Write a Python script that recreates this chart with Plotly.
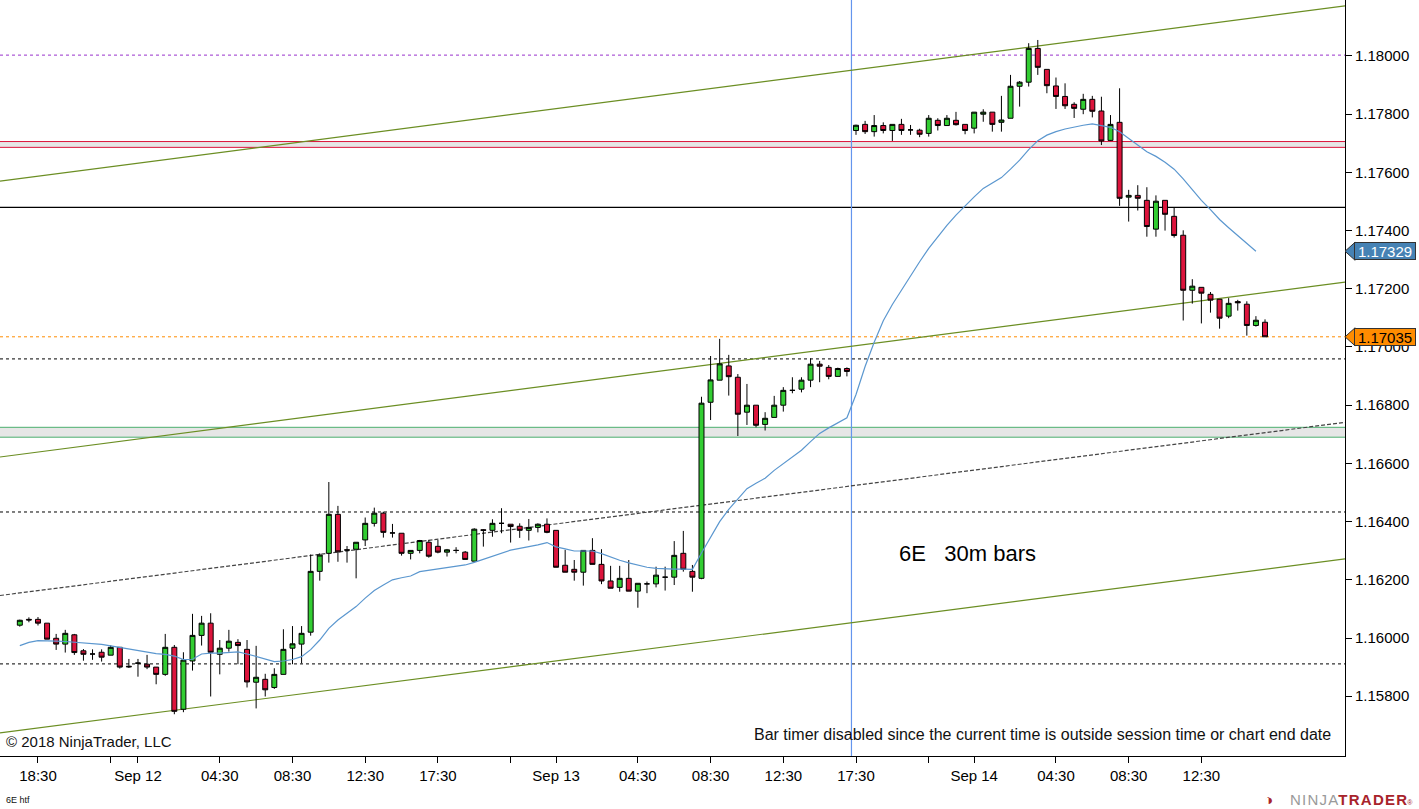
import plotly.graph_objects as go

# ── 6E 30-minute bars, Sep 11 17:00 → Sep 14 ─────────────────────────────────
opens = [
    1.16044, 1.16064, 1.16064, 1.16051, 1.15999, 1.15979, 1.16011, 1.15956, 1.15945, 1.15951,
    1.15941, 1.15968, 1.15903, 1.15913, 1.15910, 1.15900, 1.15875, 1.15968, 1.15755, 1.15921,
    1.16009, 1.16051, 1.15944, 1.15965, 1.15985, 1.15961, 1.15848, 1.15858, 1.15830, 1.15875,
    1.15965, 1.15979, 1.16020, 1.16229, 1.16291, 1.16425, 1.16303, 1.16305, 1.16337, 1.16394,
    1.16429, 1.16361, 1.16360, 1.16291, 1.16301, 1.16329, 1.16315, 1.16295, 1.16301, 1.16295,
    1.16264, 1.16372, 1.16370, 1.16394, 1.16391, 1.16384, 1.16370, 1.16380, 1.16391, 1.16370,
    1.16250, 1.16236, 1.16226, 1.16301, 1.16253, 1.16196, 1.16174, 1.16205, 1.16161, 1.16186,
    1.16186, 1.16209, 1.16209, 1.16291, 1.16229, 1.16205, 1.16810, 1.16886, 1.16935, 1.16896,
    1.16776, 1.16800, 1.16734, 1.16758, 1.16800, 1.16851, 1.16855, 1.16886, 1.16941, 1.16930,
    1.16899, 1.16926, 1.17744, 1.17765, 1.17740, 1.17761, 1.17744, 1.17765, 1.17746, 1.17745,
    1.17734, 1.17779, 1.17761, 1.17779, 1.17765, 1.17752, 1.17800, 1.17807, 1.17772, 1.17786,
    1.17896, 1.17910, 1.18026, 1.17954, 1.17897, 1.17861, 1.17834, 1.17817, 1.17851, 1.17811,
    1.17710, 1.17772, 1.17515, 1.17521, 1.17504, 1.17405, 1.17504, 1.17449, 1.17384, 1.17195,
    1.17205, 1.17181, 1.17164, 1.17106, 1.17156, 1.17147, 1.17074, 1.17085,
]
highs = [
    1.16063, 1.16071, 1.16072, 1.16051, 1.16014, 1.16028, 1.16014, 1.15962, 1.15961, 1.15961,
    1.15975, 1.15968, 1.15928, 1.15928, 1.15942, 1.15900, 1.16014, 1.15976, 1.15951, 1.16083,
    1.16076, 1.16085, 1.15993, 1.16028, 1.15996, 1.15993, 1.15973, 1.15877, 1.15896, 1.16030,
    1.16041, 1.16041, 1.16287, 1.16291, 1.16536, 1.16454, 1.16316, 1.16329, 1.16414, 1.16448,
    1.16434, 1.16392, 1.16360, 1.16301, 1.16337, 1.16337, 1.16337, 1.16306, 1.16312, 1.16299,
    1.16377, 1.16374, 1.16408, 1.16446, 1.16391, 1.16394, 1.16409, 1.16394, 1.16411, 1.16370,
    1.16303, 1.16268, 1.16301, 1.16343, 1.16305, 1.16248, 1.16248, 1.16268, 1.16188, 1.16194,
    1.16245, 1.16245, 1.16333, 1.16368, 1.16251, 1.16829, 1.16969, 1.17028, 1.16973, 1.16907,
    1.16873, 1.16800, 1.16776, 1.16832, 1.16862, 1.16896, 1.16896, 1.16961, 1.16952, 1.16938,
    1.16929, 1.16930, 1.17764, 1.17777, 1.17797, 1.17772, 1.17765, 1.17784, 1.17763, 1.17750,
    1.17797, 1.17786, 1.17797, 1.17808, 1.17765, 1.17807, 1.17817, 1.17807, 1.17863, 1.17935,
    1.17914, 1.18044, 1.18055, 1.17954, 1.17926, 1.17906, 1.17841, 1.17870, 1.17863, 1.17860,
    1.17797, 1.17889, 1.17540, 1.17556, 1.17549, 1.17521, 1.17504, 1.17480, 1.17401, 1.17233,
    1.17205, 1.17189, 1.17164, 1.17168, 1.17162, 1.17157, 1.17106, 1.17095,
]
lows = [
    1.16039, 1.16054, 1.16043, 1.15996, 1.15959, 1.15950, 1.15942, 1.15922, 1.15925, 1.15919,
    1.15941, 1.15895, 1.15897, 1.15867, 1.15893, 1.15841, 1.15870, 1.15738, 1.15745, 1.15888,
    1.15974, 1.15799, 1.15875, 1.15953, 1.15910, 1.15830, 1.15758, 1.15799, 1.15825, 1.15875,
    1.15910, 1.15913, 1.16008, 1.16197, 1.16259, 1.16262, 1.16259, 1.16205, 1.16316, 1.16383,
    1.16345, 1.16345, 1.16283, 1.16270, 1.16291, 1.16276, 1.16291, 1.16280, 1.16291, 1.16270,
    1.16264, 1.16314, 1.16348, 1.16360, 1.16328, 1.16344, 1.16335, 1.16363, 1.16360, 1.16243,
    1.16226, 1.16197, 1.16180, 1.16253, 1.16185, 1.16171, 1.16159, 1.16161, 1.16104, 1.16154,
    1.16174, 1.16163, 1.16182, 1.16228, 1.16159, 1.16202, 1.16749, 1.16886, 1.16833, 1.16694,
    1.16732, 1.16724, 1.16713, 1.16758, 1.16778, 1.16841, 1.16844, 1.16862, 1.16879, 1.16889,
    1.16899, 1.16899, 1.17729, 1.17732, 1.17723, 1.17734, 1.17708, 1.17729, 1.17729, 1.17721,
    1.17723, 1.17744, 1.17761, 1.17761, 1.17731, 1.17734, 1.17774, 1.17740, 1.17740, 1.17786,
    1.17826, 1.17895, 1.17935, 1.17872, 1.17818, 1.17818, 1.17787, 1.17800, 1.17789, 1.17694,
    1.17708, 1.17485, 1.17431, 1.17469, 1.17379, 1.17379, 1.17400, 1.17376, 1.17091, 1.17149,
    1.17081, 1.17118, 1.17063, 1.17099, 1.17125, 1.17039, 1.17070, 1.17035,
]
closes = [
    1.16061, 1.16062, 1.16051, 1.15996, 1.15979, 1.16016, 1.15950, 1.15944, 1.15945, 1.15934,
    1.15968, 1.15900, 1.15901, 1.15914, 1.15900, 1.15875, 1.15968, 1.15748, 1.15924, 1.16009,
    1.16051, 1.15951, 1.15965, 1.15989, 1.15974, 1.15849, 1.15865, 1.15822, 1.15875, 1.15961,
    1.15980, 1.16016, 1.16229, 1.16285, 1.16425, 1.16296, 1.16302, 1.16329, 1.16394, 1.16429,
    1.16363, 1.16361, 1.16291, 1.16301, 1.16335, 1.16281, 1.16295, 1.16303, 1.16301, 1.16270,
    1.16374, 1.16370, 1.16394, 1.16394, 1.16383, 1.16370, 1.16380, 1.16391, 1.16363, 1.16243,
    1.16226, 1.16226, 1.16301, 1.16253, 1.16196, 1.16171, 1.16205, 1.16161, 1.16188, 1.16186,
    1.16216, 1.16209, 1.16284, 1.16236, 1.16209, 1.16807, 1.16887, 1.16942, 1.16898, 1.16769,
    1.16800, 1.16731, 1.16755, 1.16800, 1.16851, 1.16851, 1.16886, 1.16941, 1.16934, 1.16899,
    1.16926, 1.16916, 1.17762, 1.17740, 1.17761, 1.17744, 1.17765, 1.17744, 1.17746, 1.17731,
    1.17786, 1.17761, 1.17786, 1.17764, 1.17744, 1.17807, 1.17807, 1.17765, 1.17780, 1.17896,
    1.17910, 1.18026, 1.17961, 1.17898, 1.17861, 1.17829, 1.17820, 1.17851, 1.17810, 1.17708,
    1.17765, 1.17511, 1.17521, 1.17511, 1.17414, 1.17501, 1.17456, 1.17383, 1.17195, 1.17209,
    1.17185, 1.17161, 1.17099, 1.17150, 1.17152, 1.17074, 1.17092, 1.17035,
]
# moving average (one value per bar, last bar has none)
ma_values = [
    1.15974, 1.15985, 1.15991, 1.15991, 1.15989, 1.15988, 1.15986, 1.15984, 1.15982, 1.15978,
    1.15973, 1.15968, 1.15962, 1.15958, 1.15953, 1.15946, 1.15944, 1.15938, 1.15926, 1.15927,
    1.15945, 1.15948, 1.15948, 1.15950, 1.15952, 1.15945, 1.15936, 1.15926, 1.15919, 1.15921,
    1.15926, 1.15936, 1.15960, 1.15993, 1.16033, 1.16062, 1.16085, 1.16108, 1.16137, 1.16163,
    1.16182, 1.16200, 1.16207, 1.16213, 1.16228, 1.16233, 1.16238, 1.16242, 1.16246, 1.16251,
    1.16260, 1.16270, 1.16281, 1.16292, 1.16302, 1.16308, 1.16313, 1.16320, 1.16328, 1.16313,
    1.16306, 1.16299, 1.16299, 1.16299, 1.16290, 1.16278, 1.16267, 1.16258, 1.16250, 1.16243,
    1.16239, 1.16237, 1.16237, 1.16237, 1.16236, 1.16292, 1.16346, 1.16400, 1.16442, 1.16479,
    1.16513, 1.16532, 1.16549, 1.16576, 1.16600, 1.16622, 1.16645, 1.16675, 1.16703, 1.16722,
    1.16740, 1.16757, 1.16837, 1.16933, 1.17016, 1.17090, 1.17146, 1.17196, 1.17245, 1.17293,
    1.17339, 1.17379, 1.17418, 1.17453, 1.17485, 1.17516, 1.17545, 1.17564, 1.17582, 1.17611,
    1.17642, 1.17678, 1.17709, 1.17728, 1.17740, 1.17749, 1.17756, 1.17762, 1.17767, 1.17762,
    1.17755, 1.17740, 1.17717, 1.17694, 1.17671, 1.17655, 1.17635, 1.17611, 1.17578, 1.17541,
    1.17504, 1.17472, 1.17438, 1.17410, 1.17384, 1.17356, 1.17329,
]

tick_bars   = [2, 10, 13, 22, 30, 38, 46, 54, 59, 68, 76, 84, 92, 100, 105, 114, 122, 130]
tick_labels = ["18:30", "", "Sep 12", "04:30", "08:30", "12:30", "17:30", "", "Sep 13",
               "04:30", "08:30", "12:30", "17:30", "", "Sep 14", "04:30", "08:30", "12:30"]
price_ticks = [1.158, 1.160, 1.162, 1.164, 1.166, 1.168, 1.170, 1.172, 1.174, 1.176, 1.178, 1.180]

# drawn levels
dotted_levels = [1.16959, 1.16433, 1.15911]
solid_level   = 1.17480
purple_level  = 1.18003
band_upper    = [1.17686, 1.17706]
band_lower    = [1.16690, 1.16724]
session_break = 91.5
# trendlines: price at left edge, price at right edge
channel_left  = [1.17570, 1.16622, 1.15674]
channel_right = [1.18172, 1.17223, 1.16272]
dashed_left, dashed_right = 1.16146, 1.16741

last_price = closes[-1]
ma_last    = ma_values[-1]

# ── styling ──────────────────────────────────────────────────────────────────
FONT     = "Liberation Sans, Arial, sans-serif"
UP_CLR   = "#32CD32"
DN_CLR   = "#DC143C"
MA_CLR   = "#5b97cf"
OLIVE    = "#6b8e23"
BAND_CLR = "#e6e6e6"
X_MIN, X_MAX = -2.18, 145.8
Y_MIN, Y_MAX = 1.155945, 1.181924
FLAG_HALF = 0.00031   # half height of the price flags, in price units

bars = list(range(len(opens)))

fig = go.Figure()
fig.add_trace(go.Candlestick(
    x=bars, open=opens, high=highs, low=lows, close=closes,
    increasing=dict(line=dict(color="black", width=1), fillcolor=UP_CLR),
    decreasing=dict(line=dict(color="black", width=1), fillcolor=DN_CLR),
    whiskerwidth=0, hoverinfo="skip",
))
fig.add_trace(go.Scatter(
    x=bars[:len(ma_values)], y=ma_values, mode="lines",
    line=dict(color=MA_CLR, width=1.2), hoverinfo="skip",
))

shapes = []
for lo, hi, edge in [(band_upper[0], band_upper[1], DN_CLR), (band_lower[0], band_lower[1], "#4caf6e")]:
    shapes.append(dict(type="rect", xref="paper", x0=0, x1=1, y0=lo, y1=hi,
                       fillcolor=BAND_CLR, line_width=0, layer="below"))
    for lvl in (lo, hi):
        shapes.append(dict(type="line", xref="paper", x0=0, x1=1, y0=lvl, y1=lvl,
                           line=dict(color=edge, width=1), layer="below"))
for lvl in dotted_levels:
    shapes.append(dict(type="line", xref="paper", x0=0, x1=1, y0=lvl, y1=lvl,
                       line=dict(color="black", width=1, dash="dot"), layer="below"))
shapes.append(dict(type="line", xref="paper", x0=0, x1=1, y0=solid_level, y1=solid_level,
                   line=dict(color="black", width=1.2), layer="below"))
shapes.append(dict(type="line", xref="paper", x0=0, x1=1, y0=purple_level, y1=purple_level,
                   line=dict(color="#9932CC", width=1, dash="dot"), layer="below"))
shapes.append(dict(type="line", xref="paper", x0=0, x1=1, y0=last_price, y1=last_price,
                   line=dict(color="#FF8C00", width=1, dash="dot"), layer="below"))
for p0, p1 in zip(channel_left, channel_right):
    shapes.append(dict(type="line", x0=X_MIN, x1=X_MAX, y0=p0, y1=p1,
                       line=dict(color=OLIVE, width=1.2), layer="below"))
shapes.append(dict(type="line", x0=X_MIN, x1=X_MAX, y0=dashed_left, y1=dashed_right,
                   line=dict(color="#444444", width=1.2, dash="4px,2px"), layer="below"))
shapes.append(dict(type="line", x0=session_break, x1=session_break, yref="paper", y0=0, y1=1,
                   line=dict(color="#6495ED", width=1.2), layer="below"))
# pointed tips of the price flags
for price, bg in [(ma_last, "#4682B4"), (last_price, "#FF8C00")]:
    shapes.append(dict(
        type="path", xref="paper", yref="y",
        path=f"M 1.0,{price} L 1.0075,{price + FLAG_HALF} L 1.0075,{price - FLAG_HALF} Z",
        fillcolor=bg, line=dict(color="#333", width=1), layer="above",
    ))

annotations = [
    dict(text="6E\u00a0\u00a0\u00a030m bars", xref="paper", yref="paper", x=0.667, y=0.2685,
         xanchor="left", yanchor="middle", showarrow=False, font=dict(size=22, color="black")),
    dict(text="© 2018 NinjaTrader, LLC", xref="paper", yref="paper", x=0.003, y=0.0198,
         xanchor="left", yanchor="middle", showarrow=False, font=dict(size=15, color="#111")),
    dict(text="Bar timer disabled since the current time is outside session time or chart end date",
         xref="paper", yref="paper", x=0.991, y=0.0278, xanchor="right", yanchor="middle",
         showarrow=False, font=dict(size=16, color="#111")),
    dict(text="6E htf", xref="paper", yref="paper", x=0.003, y=-0.058, xanchor="left",
         yanchor="middle", showarrow=False, font=dict(size=9, color="#111")),
    dict(text="<span style='color:#9a9a9a'>N\u200aI\u200aN\u200aJ\u200aA</span>"
              "<span style='color:#a8232b'><b>T\u200aR\u200aA\u200aD\u200aE\u200aR</b></span>"
              "<span style='color:#a8232b;font-size:7px'>®</span>",
         xref="paper", yref="paper", x=1.052, y=-0.058, xanchor="right", yanchor="middle",
         showarrow=False, font=dict(size=15)),
    dict(text="\u25d1", xref="paper", yref="paper", x=0.948, y=-0.058, xanchor="right",
         yanchor="middle", showarrow=False, font=dict(size=15, color="#a8232b")),
]
for price, bg, fg in [(ma_last, "#4682B4", "white"), (last_price, "#FF8C00", "black")]:
    annotations.append(dict(
        text=f"{price:.5f}", xref="paper", yref="y", x=1.0067, y=price,
        xanchor="left", yanchor="middle", showarrow=False,
        font=dict(size=15, color=fg), bgcolor=bg, bordercolor="#333", borderwidth=1,
        borderpad=0, width=60, height=16,
    ))

fig.update_layout(
    width=1419, height=809,
    margin=dict(l=0, r=74, t=0, b=53),
    paper_bgcolor="white", plot_bgcolor="white",
    showlegend=False, boxgap=0.22,
    font=dict(family=FONT, size=14, color="black"),
    shapes=shapes, annotations=annotations,
    xaxis=dict(
        range=[X_MIN, X_MAX], tickvals=tick_bars, ticktext=tick_labels,
        ticks="outside", ticklen=6, tickcolor="black", showline=True, linecolor="black",
        showgrid=False, zeroline=False, rangeslider=dict(visible=False),
        tickfont=dict(size=15),
    ),
    yaxis=dict(
        range=[Y_MIN, Y_MAX], side="right", tickvals=price_ticks, tickformat=".5f",
        ticks="outside", ticklen=6, tickcolor="black", showline=True, linecolor="black",
        showgrid=False, zeroline=False, tickfont=dict(size=15),
    ),
)

# page body margin would shift the figure by 8px
fig.write_html("out.html", config={"displayModeBar": False},
               post_script="document.body.style.margin='0';")
